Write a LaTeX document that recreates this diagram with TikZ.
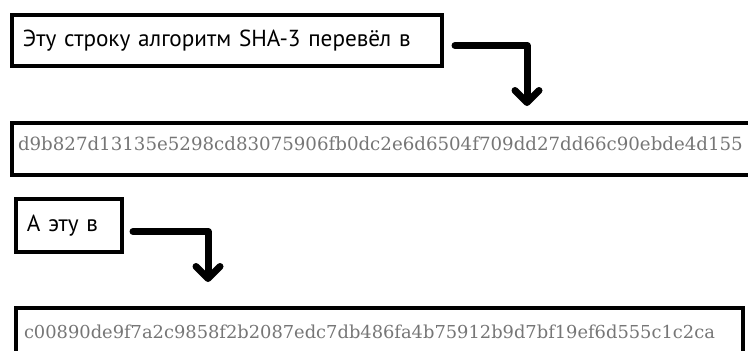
\documentclass[tikz,border=0pt]{standalone}
\usepackage{fontspec}
\setmainfont{DejaVu Serif}
\newfontfamily\handfont{PT Sans}
\usepackage{xcolor}
\definecolor{hashgray}{RGB}{118,118,118}
\usetikzlibrary{arrows.meta}

\begin{document}
\begin{tikzpicture}[
  x=1pt, y=-1pt,
  box/.style={draw, line width=4pt, inner ysep=0pt, anchor=north west, align=left},
  srcbox/.style={box, font=\handfont\fontsize{23.2}{26}\selectfont, inner xsep=11pt, minimum height=51pt},
  hashbox/.style={box, text=hashgray, font=\fontsize{18.2}{20}\selectfont, inner xsep=6pt, text height=27pt, text depth=25pt},
  flow/.style={-{Straight Barb[round, length=12pt, width=24pt]}, line width=7pt, line cap=round, line join=round}
]
\useasboundingbox (0,0) rectangle (748,351);

\node[srcbox, text width=408pt] (src1) at (10,13) {Эту строку алгоритм SHA-3 перевёл в};
\node[hashbox, text width=760pt] (hash1) at (10,121) {d9b827d13135e5298cd83075906fb0dc2e6d6504f709dd27dd66c90ebde4d155};
\node[srcbox, minimum height=53pt, text width=84pt] (src2) at (14,197) {А эту в};
\node[hashbox, text width=711pt, inner xsep=8pt, text height=30pt, font=\fontsize{17.85}{20}\selectfont] (hash2) at (14,306) {c00890de9f7a2c9858f2b2087edc7db486fa4b75912b9d7bf19ef6d555c1c2ca};

\coordinate (tip1) at (527,106);
\coordinate (tip2) at (208,282);

\draw[flow] ([shift={(11,5)}]src1.east) -| (tip1);
\draw[flow] ([shift={(9,6)}]src2.east) -| (tip2);
\end{tikzpicture}
\end{document}
